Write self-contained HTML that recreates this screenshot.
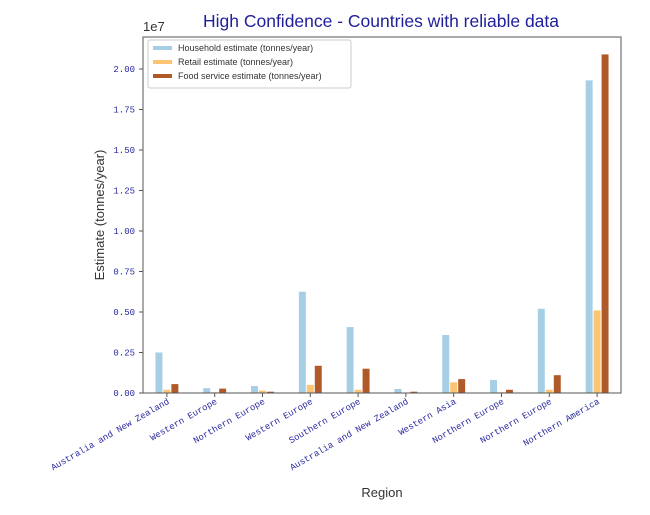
<!DOCTYPE html>
<html><head><meta charset="utf-8"><style>
body{margin:0;background:#fff;}
svg{display:block;font-family:"Liberation Sans",sans-serif;}
.tick{font-family:"Liberation Mono",monospace;font-size:9px;fill:#2a2aa0;}
</style></head><body>
<svg id="chart" width="650" height="515">
<text x="381" y="27" text-anchor="middle" font-size="17.5" fill="#1f1f99">High Confidence - Countries with reliable data</text>
<text x="143" y="31" font-size="13" fill="#333">1e7</text>
<text transform="translate(104,215) rotate(-90)" text-anchor="middle" font-size="13" fill="#333">Estimate (tonnes/year)</text>
<text x="382" y="497" text-anchor="middle" font-size="13" fill="#333">Region</text>
<g id="marks"></g>
<rect x="143" y="37" width="478" height="356" fill="none" stroke="#555" stroke-width="1"/>
<g>
<rect x="148" y="40" width="203" height="48" fill="#fff" stroke="#ccc" rx="2"/>
<g><rect x="153" y="46" width="19" height="4" fill="#a6cfe6"/><text x="178" y="51" font-size="9" fill="#333">Household estimate (tonnes/year)</text></g>
<g><rect x="153" y="60" width="19" height="4" fill="#fdc474"/><text x="178" y="65" font-size="9" fill="#333">Retail estimate (tonnes/year)</text></g>
<g><rect x="153" y="74" width="19" height="4" fill="#b05a2a"/><text x="178" y="79" font-size="9" fill="#333">Food service estimate (tonnes/year)</text></g>
</g>
</svg>
<script>
const categories=["Australia and New Zealand","Western Europe","Northern Europe","Western Europe","Southern Europe","Australia and New Zealand","Western Asia","Northern Europe","Northern Europe","Northern America"];
const household=[0.25,0.03,0.043,0.625,0.407,0.025,0.358,0.08,0.52,1.93];
const retail=[0.02,0.005,0.015,0.05,0.02,0.003,0.066,0.005,0.02,0.51];
const foodService=[0.055,0.027,0.008,0.168,0.15,0.008,0.086,0.02,0.11,2.09];
const yTicks=[0,0.25,0.5,0.75,1.0,1.25,1.5,1.75,2.0];
const yTickLabels=["0.00","0.25","0.50","0.75","1.00","1.25","1.50","1.75","2.00"];

const NS="http://www.w3.org/2000/svg";
const L=143,R=621,T=37,B=393;
const y=v=>B-v*162;
const band=(R-L)/categories.length;
const xc=i=>L+band*(i+0.5);
const g=document.getElementById('marks');
function mk(t,a){const e=document.createElementNS(NS,t);for(const k in a)e.setAttribute(k,a[k]);g.appendChild(e);return e;}
yTicks.forEach((v,i)=>{
  const tk=mk('line',{x1:L-4,x2:L,y1:y(v),y2:y(v),stroke:'#555'});
  
  
  const t=mk('text',{x:L-8,y:y(v)+3,'text-anchor':'end',class:'tick'});
  t.textContent=yTickLabels[i];
  
  
});
const series=[[household,'#a6cfe6','household'],[retail,'#fdc474','retail'],[foodService,'#b05a2a','food-service']];
const bw=band/6;
categories.forEach((c,i)=>{
  series.forEach((s,j)=>{
    const v=s[0][i];
    const r=mk('rect',{x:xc(i)+(j-1.5)*bw+0.5,y:y(v),width:bw-1,height:B-y(v),fill:s[1]});
    
    
  });
  const tk=mk('line',{x1:xc(i),x2:xc(i),y1:B,y2:B+4,stroke:'#555'});
  
  
  const t=mk('text',{transform:`translate(${xc(i)+3},${B+10}) rotate(-30)`,'text-anchor':'end',class:'tick'});
  t.textContent=c;
  
  
});
</script>
</body></html>
